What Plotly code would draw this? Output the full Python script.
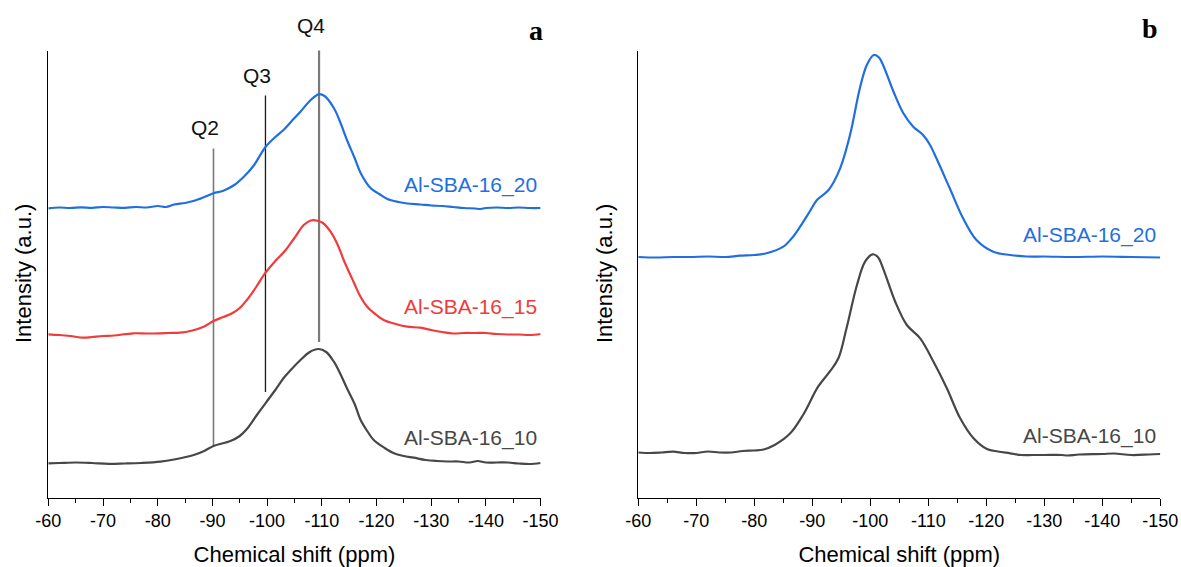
import plotly.graph_objects as go

# ---- Panel a: 29Si MAS NMR spectra (stacked, arbitrary units) ----
a_sba20_ppm = [-60, -62, -64, -66, -68, -70, -72, -74, -76, -78, -80, -81.5, -83, -85, -86.5,
               -88.3, -90.2, -92, -94, -95.7, -97.5, -99.7, -101.5, -103, -104.5, -106.1,
               -107.8, -109.4, -110.5, -112.2, -113.5, -114.6, -116, -117.1, -118.9, -120.5,
               -122, -124, -125.6, -128, -130, -132, -134, -136, -138, -139, -140, -142,
               -144, -146, -148, -150]
a_sba20_int = [289.2, 290, 289.5, 290.2, 289.7, 290.5, 290, 289.7, 290.5, 290, 291.5, 290.5,
               293, 294.5, 296.5, 300, 304.2, 306.8, 312.5, 320.5, 331.5, 350.5, 360.5, 367.5,
               376.5, 385.8, 396.5, 403.2, 401.5, 389.5, 373.5, 357.5, 339.5, 324.5, 309.5,
               303.5, 298.5, 295.5, 294, 293, 292, 291.5, 290.5, 289.5, 289, 288.5, 289.5,
               290, 289.5, 290, 289.5, 289.5]

a_sba15_ppm = [-60, -62, -64, -66.4, -68, -70, -72, -75.5, -78, -80.5, -82, -84.1, -86, -88.4,
               -90.2, -92, -93.6, -95, -96.3, -98, -99.7, -101.5, -103.4, -105, -106.7, -108,
               -109.2, -110.2, -111.6, -113, -114, -115.9, -117, -118.3, -120, -121.3, -123.5,
               -125.6, -128, -130, -132, -134, -136, -138, -140, -142, -144, -146, -148, -150]
a_sba15_int = [163.2, 162.5, 161.5, 159.8, 160.5, 161.5, 162, 164.2, 164, 164.2, 164.5, 164.8,
               166.5, 170.8, 176.5, 180.5, 184.2, 189.5, 197.5, 210.5, 224.8, 236.5, 247.5,
               259.5, 272.5, 277, 276.8, 274.5, 265.8, 251.5, 237.5, 214.5, 201.5, 190.8,
               182.5, 177.5, 173.5, 170.8, 169.8, 167.5, 165.5, 164, 164.5, 164.5, 164.5,
               163.5, 163, 163, 162.5, 163.5]

a_sba10_ppm = [-60, -62, -65, -68, -71, -74, -77, -80.5, -83, -86.6, -88.5, -90.2, -93.3, -95,
               -96.3, -98, -99.7, -101.5, -103, -104.5, -106.1, -107.8, -109.4, -110.8, -112.2,
               -113.4, -114.6, -116, -117.1, -118.3, -119.5, -121.5, -123.2, -125, -126.8,
               -129, -131, -133, -135, -137, -138.5, -140, -142, -144, -146, -148, -150]
a_sba10_int = [34.2, 34.5, 35, 34.5, 33.7, 34, 34.5, 35.8, 38, 42.5, 46.5, 51.5, 56.5, 61.5,
               68.5, 81.5, 94.2, 107.5, 119.2, 128.5, 137.5, 145.5, 148.5, 145.5, 135.8, 123.5,
               109.2, 93.5, 77.5, 66.5, 57.5, 49.5, 44.2, 41.5, 39.8, 37.5, 36.5, 36, 36, 35,
               36.5, 35, 35, 35, 34, 33.5, 34.5]

# ---- Panel b ----
b_sba20_ppm = [-60, -63, -66, -69, -72, -75, -77.5, -80, -82.1, -85, -86.5, -87.9, -89.5,
               -90.8, -92.8, -94.8, -96.5, -98.2, -99.4, -100.6, -101.5, -102.2, -104, -105.7,
               -107.4, -109.1, -110.3, -111.4, -113.7, -116, -118.3, -121.2, -124.1, -127,
               -130, -135, -140, -145, -150]
b_sba20_int = [240.5, 240, 240.5, 240.5, 241, 240.5, 241.8, 242.5, 244.2, 250.8, 259.5, 270.8,
               285.5, 297.5, 307.5, 329.2, 362.5, 409.2, 432.5, 442.5, 440, 432.5, 405.8,
               384.2, 370.8, 362.5, 352.5, 339.2, 309.2, 279.2, 257.5, 245.8, 242.5, 241, 241,
               240.5, 241, 240.5, 240]

b_sba10_ppm = [-60, -62, -64, -66, -68, -70, -72, -74, -76, -78, -80, -81.6, -83.5, -86.2,
               -88.4, -91, -93, -94.5, -95.9, -97.7, -99.1, -100.4, -101.3, -102.2, -104.3,
               -106.3, -108.6, -110.9, -113.2, -115.5, -117.8, -120.1, -122, -124.1, -126,
               -128, -130, -133, -134, -136, -140, -142, -145, -148, -150]
b_sba10_int = [45, 44.5, 45, 45.8, 44.5, 44.5, 46, 45, 45, 46.5, 47, 48, 52.5, 64.2, 82.5,
               110.8, 125.8, 139.2, 169.2, 212.5, 235.8, 243.2, 240.5, 229.2, 195.8, 172.5,
               159.2, 135.8, 109.2, 79.2, 59.2, 48.5, 46, 44.2, 42.5, 42.5, 42.5, 42.5, 42,
               43, 43.5, 44, 42.5, 43, 43.5]

# Q^n reference positions (ppm) and the vertical extent of each marker line
q_labels = ["Q2", "Q3", "Q4"]
q_ppm = [-90.2, -99.7, -109.5]
q_low = [52.5, 105.5, 155.5]
q_high = [349.0, 402.0, 451.5]
q_colors = ["#7a7a7a", "#1a1a1a", "#7a7a7a"]
q_widths = [1.6, 1.3, 2.2]

# Axis ticks
tick_vals = [-60, -70, -80, -90, -100, -110, -120, -130, -140, -150]
tick_text = ["-60", "-70", "-80", "-90", "-100", "-110", "-120", "-130", "-140", "-150"]

BLUE = "#1f6fdf"
RED = "#ef3b3b"
GREY = "#474747"
FONT = "Liberation Sans, Arial, sans-serif"

W, H = 1181, 567
# plot-area pixel boxes
ax_a = (48.3, 540.6)
ax_b = (638.3, 1160.3)
y_bot, y_top = 497.5, 50.5
Y_MAX = 447.0


def dom_x(px):
    return [px[0] / W, px[1] / W]


def paper_y(val):
    """Convert an intensity value to a paper fraction (for items drawn above the axes)."""
    py = y_bot - (y_bot - y_top) * val / Y_MAX
    return (H - py) / H


y_dom = [(H - y_bot) / H, (H - y_top) / H]

fig = go.Figure()

series = [
    (a_sba20_ppm, a_sba20_int, BLUE, "x", "y"),
    (a_sba15_ppm, a_sba15_int, RED, "x", "y"),
    (a_sba10_ppm, a_sba10_int, GREY, "x", "y"),
    (b_sba20_ppm, b_sba20_int, BLUE, "x2", "y2"),
    (b_sba10_ppm, b_sba10_int, GREY, "x2", "y2"),
]
for xs, ys, col, xa, ya in series:
    fig.add_trace(go.Scatter(x=xs, y=ys, mode="lines", xaxis=xa, yaxis=ya,
                             line=dict(color=col, width=2.2, shape="spline", smoothing=1.0),
                             showlegend=False, hoverinfo="skip"))

# Q markers
for lab, xq, lo, hi, col, lw in zip(q_labels, q_ppm, q_low, q_high, q_colors, q_widths):
    fig.add_shape(type="line", xref="x", yref="y", x0=xq, x1=xq, y0=lo, y1=hi,
                  line=dict(color=col, width=lw), layer="below")
    fig.add_annotation(x=xq, y=paper_y(hi), xref="x", yref="paper", text=lab, showarrow=False,
                       yanchor="bottom", yshift=7, xshift=-8,
                       font=dict(family=FONT, size=21, color="#111"))

# Series labels
labels = [
    ("x", "y", -150, 312.5, "Al-SBA-16_20", BLUE),
    ("x", "y", -150, 190.8, "Al-SBA-16_15", RED),
    ("x", "y", -150, 59.2, "Al-SBA-16_10", GREY),
    ("x2", "y2", -150, 262.5, "Al-SBA-16_20", BLUE),
    ("x2", "y2", -150, 61.7, "Al-SBA-16_10", GREY),
]
for xa, ya, xv, yv, txt, col in labels:
    fig.add_annotation(x=xv, y=yv, xref=xa, yref=ya, text=txt, showarrow=False,
                       xanchor="right", yanchor="middle", xshift=-2,
                       font=dict(family=FONT, size=21, color=col))

# Panel letters
fig.add_annotation(x=536 / W, y=(H - 30) / H, xref="paper", yref="paper", text="<b>a</b>",
                   showarrow=False, xanchor="center", yanchor="middle",
                   font=dict(family="Liberation Serif, Times New Roman, serif", size=28, color="#000"))
fig.add_annotation(x=1150 / W, y=(H - 28) / H, xref="paper", yref="paper", text="<b>b</b>",
                   showarrow=False, xanchor="center", yanchor="middle",
                   font=dict(family="Liberation Serif, Times New Roman, serif", size=28, color="#000"))

# Y-axis titles
for xp in (23, 604):
    fig.add_annotation(x=xp / W, y=(H - 274) / H, xref="paper", yref="paper",
                       text="Intensity (a.u.)", textangle=-90, showarrow=False,
                       xanchor="center", yanchor="middle",
                       font=dict(family=FONT, size=22, color="#000"))

xaxis_common = dict(
    range=[-60, -150], tickmode="array", tickvals=tick_vals, ticktext=tick_text,
    ticks="outside", ticklen=7, tickwidth=1.3, tickcolor="#000",
    minor=dict(dtick=5, tick0=-60, ticks="outside", ticklen=4, tickwidth=1.2, tickcolor="#000"),
    showline=True, linecolor="#000", linewidth=1.4, showgrid=False, zeroline=False,
    tickfont=dict(family=FONT, size=18, color="#000"),
    title=dict(text="Chemical shift (ppm)", font=dict(family=FONT, size=22, color="#000"),
               standoff=16),
    automargin=False,
)
yaxis_common = dict(range=[0, Y_MAX], showline=True, linecolor="#000", linewidth=1.4,
                    showticklabels=False, ticks="", showgrid=False, zeroline=False,
                    automargin=False)

fig.update_layout(
    width=W, height=H, margin=dict(l=0, r=0, t=0, b=0, autoexpand=False),
    paper_bgcolor="white", plot_bgcolor="white",
    xaxis={**xaxis_common, "domain": dom_x(ax_a), "anchor": "y"},
    xaxis2={**xaxis_common, "domain": dom_x(ax_b), "anchor": "y2"},
    yaxis={**yaxis_common, "domain": y_dom, "anchor": "x"},
    yaxis2={**yaxis_common, "domain": y_dom, "anchor": "x2"},
)

fig.write_html("out.html")
